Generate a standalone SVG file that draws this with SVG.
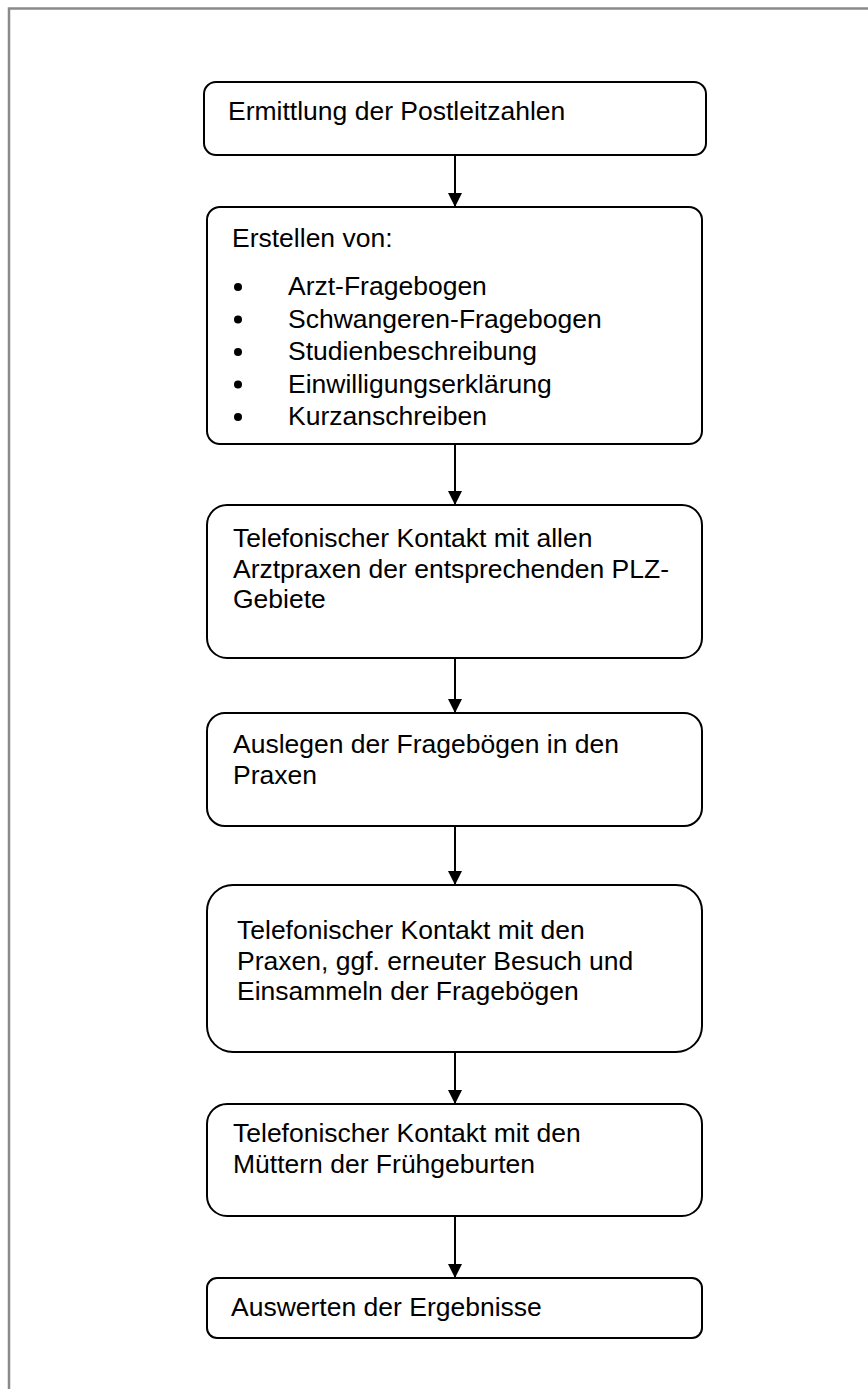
<svg xmlns="http://www.w3.org/2000/svg" width="868" height="1389" viewBox="0 0 868 1389">
  <style>
    .box { fill: #ffffff; stroke: #000000; stroke-width: 2; }
    .t { font-family: "Liberation Sans", Arial, sans-serif; font-size: 26.5px; fill: #000000; }
    .conn { stroke: #000000; stroke-width: 2; fill: none; marker-end: url(#arrow); }
    .frame { stroke: #8a8a8a; stroke-width: 2.5; fill: none; }
  </style>
  <defs>
    <marker id="arrow" viewBox="0 0 14 14" refX="14" refY="7" markerWidth="14" markerHeight="14" markerUnits="userSpaceOnUse" orient="auto">
      <path d="M0,0 L14,7 L0,14 Z" fill="#000000"/>
    </marker>
  </defs>
  <rect width="868" height="1389" fill="#ffffff"/>
  <path class="frame" d="M9,1389 L9,8.5 L868,8.5"/>

  <g id="connectors">
    <line class="conn" x1="455" y1="155" x2="455" y2="207"/>
    <line class="conn" x1="455" y1="444" x2="455" y2="505"/>
    <line class="conn" x1="455" y1="658" x2="455" y2="713"/>
    <line class="conn" x1="455" y1="826" x2="455" y2="885"/>
    <line class="conn" x1="455" y1="1052" x2="455" y2="1104"/>
    <line class="conn" x1="455" y1="1216" x2="455" y2="1278"/>
  </g>

  <g id="node1">
    <rect class="box" x="204" y="82" width="502" height="73" rx="12" ry="12"/>
    <text class="t" x="228" y="120">Ermittlung der Postleitzahlen</text>
  </g>

  <g id="node2">
    <rect class="box" x="207" y="207" width="495" height="237" rx="13" ry="13"/>
    <text class="t" x="232" y="247">Erstellen von:</text>
    <g fill="#000000">
      <circle cx="238" cy="287" r="4"/>
      <circle cx="238" cy="319.5" r="4"/>
      <circle cx="238" cy="352" r="4"/>
      <circle cx="238" cy="384.5" r="4"/>
      <circle cx="238" cy="417" r="4"/>
    </g>
    <text class="t" x="288" y="295">Arzt-Fragebogen</text>
    <text class="t" x="288" y="327.5">Schwangeren-Fragebogen</text>
    <text class="t" x="288" y="360">Studienbeschreibung</text>
    <text class="t" x="288" y="392.5">Einwilligungserklärung</text>
    <text class="t" x="288" y="425">Kurzanschreiben</text>
  </g>

  <g id="node3">
    <rect class="box" x="207" y="505" width="495" height="153" rx="20" ry="20"/>
    <text class="t" x="233" y="547">Telefonischer Kontakt mit allen</text>
    <text class="t" x="233" y="577.5">Arztpraxen der entsprechenden PLZ-</text>
    <text class="t" x="233" y="608">Gebiete</text>
  </g>

  <g id="node4">
    <rect class="box" x="207" y="713" width="495" height="113" rx="18" ry="18"/>
    <text class="t" x="233" y="753">Auslegen der Fragebögen in den</text>
    <text class="t" x="233" y="784">Praxen</text>
  </g>

  <g id="node5">
    <rect class="box" x="207" y="885" width="495" height="167" rx="26" ry="26"/>
    <text class="t" x="237" y="939">Telefonischer Kontakt mit den</text>
    <text class="t" x="237" y="970">Praxen, ggf. erneuter Besuch und</text>
    <text class="t" x="237" y="1000">Einsammeln der Fragebögen</text>
  </g>

  <g id="node6">
    <rect class="box" x="207" y="1104" width="495" height="112" rx="20" ry="20"/>
    <text class="t" x="233" y="1142">Telefonischer Kontakt mit den</text>
    <text class="t" x="233" y="1173">Müttern der Frühgeburten</text>
  </g>

  <g id="node7">
    <rect class="box" x="207" y="1278" width="495" height="60" rx="10" ry="10"/>
    <text class="t" x="231" y="1316">Auswerten der Ergebnisse</text>
  </g>
</svg>
